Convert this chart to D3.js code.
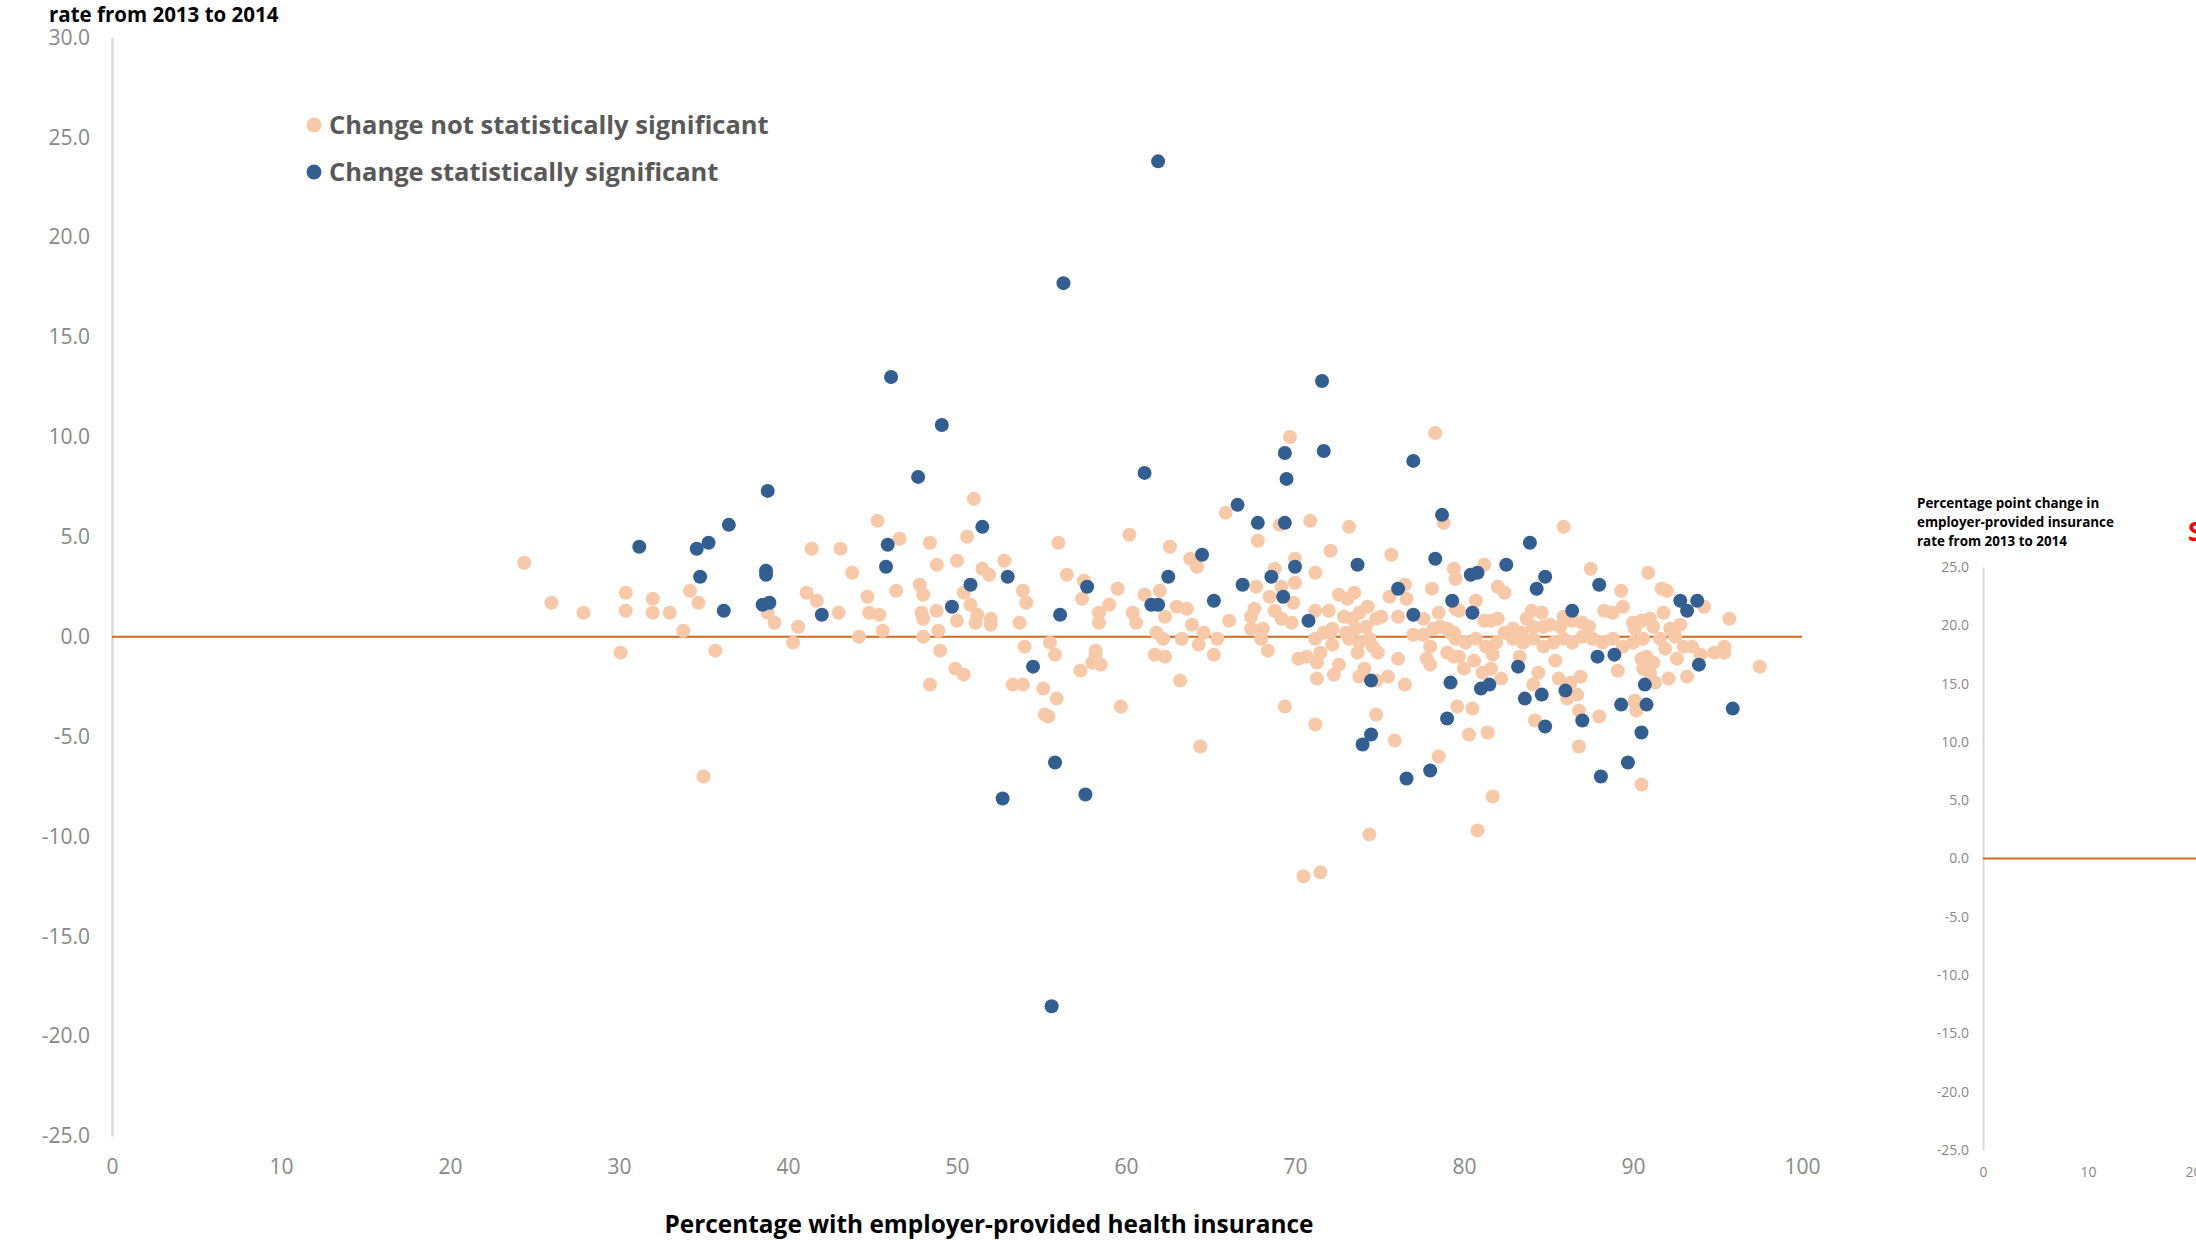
<!DOCTYPE html>
<html>
<head>
<meta charset="utf-8">
<script src="https://cdn.jsdelivr.net/npm/d3@7"></script>
<style>
  body { margin: 0; background: #fff; }
  svg { display: block; font-family: "Open Sans", sans-serif; }
</style>
</head>
<body>
<div id="chart"></div>
<script>
// [percentage with employer-provided insurance, point change 2013-2014]
const notSignificant = [
  [24.4,3.7],[26.0,1.7],[27.9,1.2],[30.1,-0.8],[30.4,2.2],[30.4,1.3],[32.0,1.9],[32.0,1.2],[33.0,1.2],[33.8,0.3],
  [34.2,2.3],[34.7,1.7],[35.7,-0.7],[35.0,-7.0],[41.4,4.4],[43.1,4.4],[38.8,1.2],[39.2,0.7],[40.6,0.5],[40.3,-0.3],
  [41.1,2.2],[41.7,1.8],[43.0,1.2],
  [45.3,5.8],[46.6,4.9],[43.8,3.2],[44.7,2.0],[44.8,1.2],[45.4,1.1],[44.2,0.0],[45.6,0.3],[46.4,2.3],[48.4,4.7],
  [48.8,3.6],[47.8,2.6],[48.0,2.1],[47.9,1.2],[48.0,0.9],[48.0,0.0],[48.8,1.3],[48.9,0.3],[49.0,-0.7],[48.4,-2.4],
  [49.9,-1.6],[50.4,-1.9],[50.0,3.8],[50.6,5.0],[51.0,6.9],[50.4,2.2],[50.8,1.6],[51.2,1.1],[51.1,0.7],[50.0,0.8],
  [51.5,3.4],[51.9,3.1],[52.0,0.9],[52.0,0.6],[52.8,3.8],[53.9,2.3],[54.1,1.7],[53.7,0.7],[54.0,-0.5],[53.3,-2.4],
  [53.9,-2.4],[55.1,-2.6],[55.9,-3.1],[55.2,-3.9],[55.4,-4.0],[55.5,-0.3],[55.8,-0.9],[56.0,4.7],[56.5,3.1],[57.5,2.8],
  [57.4,1.9],[58.4,1.2],[58.4,0.7],[58.2,-0.7],[58.2,-0.9],[58.0,-1.3],[58.5,-1.4],[57.3,-1.7],[59.0,1.6],[59.5,2.4],
  [60.2,5.1],[59.7,-3.5],[60.4,1.2],[60.6,0.7],[61.1,2.1],[62.0,2.3],[62.3,1.0],[61.8,0.2],[62.2,-0.1],[61.7,-0.9],
  [62.3,-1.0],[62.6,4.5],
  [69.7,10.0],[78.3,10.2],[65.9,6.2],[69.1,5.6],[70.9,5.8],[73.2,5.5],[78.8,5.7],[67.8,4.8],[63.8,3.9],[64.2,3.5],
  [72.1,4.3],[75.7,4.1],[70.0,3.9],[68.8,3.4],[71.2,3.2],[70.0,2.7],[67.7,2.5],[68.5,2.0],[69.2,2.5],[69.9,1.7],
  [63.0,1.5],[63.6,1.4],[63.9,0.6],[64.6,0.2],[63.3,-0.1],[64.3,-0.4],[65.4,-0.1],[65.2,-0.9],[63.2,-2.2],[66.1,0.8],
  [67.4,0.4],[68.1,0.4],[67.6,1.4],[67.4,1.0],[68.0,-0.1],[68.4,-0.7],[68.8,1.3],[69.2,0.9],[69.8,0.7],[71.2,1.3],
  [72.0,1.3],[71.2,-0.1],[71.5,-0.8],[71.3,-1.3],[70.2,-1.1],[70.7,-1.0],[71.3,-2.1],[69.4,-3.5],[71.2,-4.4],[64.4,-5.5],
  [74.4,-9.9],[70.5,-12.0],[71.5,-11.8],[72.6,-1.4],[72.3,-1.9],[72.6,2.1],[73.1,1.9],[73.5,2.2],[72.2,0.4],[71.7,0.2],
  [72.1,0.2],[72.2,-0.4],[72.9,1.0],[73.4,0.9],[73.8,1.2],[74.3,1.5],[73.0,0.2],[73.6,0.4],[74.2,0.5],[74.8,0.9],
  [75.1,1.0],[73.2,-0.1],[73.8,-0.3],[74.4,-0.1],[74.6,-0.5],[74.9,-0.8],[73.7,-0.8],[74.1,-1.6],[73.8,-2.0],[74.8,-2.2],
  [75.5,-2.0],[76.1,-1.1],[76.5,-2.4],[74.8,-3.9],[75.9,-5.2],[78.5,-6.0],[76.1,1.0],[76.5,2.6],[76.6,1.9],[75.6,2.0],
  [78.1,2.4],[78.5,1.2],[77.6,0.9],[77.0,0.1],[77.6,0.1],[78.2,0.4],[78.6,0.5],[79.0,0.4],[79.4,0.2],[78.0,-0.5],
  [77.8,-1.1],[78.0,-1.4],[79.0,-0.8],[79.4,-1.0],[79.4,3.4],[79.5,2.9],[79.5,1.4],[79.6,-3.5],
  [85.9,5.5],[87.5,3.4],[89.3,2.3],[90.9,3.2],[81.2,3.6],[82.0,2.5],[82.4,2.2],[80.7,1.8],[79.7,1.3],[81.2,0.8],
  [81.6,0.8],[82.0,0.9],[83.7,0.9],[84.0,1.3],[84.6,1.2],[82.9,0.4],[83.4,0.2],[84.1,0.5],[84.7,0.5],[85.1,0.6],
  [85.7,0.5],[85.9,1.0],[86.4,0.8],[87.0,0.7],[87.4,0.5],[88.3,1.3],[88.8,1.2],[89.4,1.5],[90.0,0.7],[90.5,0.8],
  [91.0,0.9],[79.2,0.2],[79.5,-0.1],[80.1,-0.3],[80.7,-0.1],[81.3,-0.5],[81.9,-0.3],[82.4,0.2],[82.9,-0.1],[83.5,-0.3],
  [84.1,-0.1],[84.7,-0.5],[85.3,-0.3],[85.9,-0.1],[86.4,-0.3],[87.0,0.0],[87.6,-0.1],[88.2,-0.3],[88.8,-0.1],[89.4,-0.5],
  [90.0,-0.3],[90.6,-0.1],[79.7,-1.0],[80.0,-1.6],[80.6,-1.2],[81.1,-1.8],[81.6,-1.6],[82.2,-2.1],[81.7,-0.9],[83.3,-1.0],
  [84.4,-1.8],[84.1,-2.4],[85.4,-1.2],[85.6,-2.1],[86.3,-2.3],[86.1,-3.1],[86.7,-2.9],[86.9,-2.0],[86.8,-3.7],[86.8,-5.5],
  [88.0,-4.0],[89.1,-1.7],[90.1,-3.3],[90.5,-1.1],[90.5,-7.4],[80.5,-3.6],[80.3,-4.9],[81.4,-4.8],[81.7,-8.0],[80.8,-9.7],
  [84.2,-4.2],
  [91.7,2.4],[92.0,2.3],[94.2,1.5],[91.8,1.2],[95.7,0.9],[92.8,0.6],[91.2,0.5],[92.2,0.4],[90.1,0.4],[92.5,0.0],
  [91.6,-0.1],[91.9,-0.6],[93.0,-0.5],[93.5,-0.5],[94.0,-0.9],[94.8,-0.8],[95.4,-0.5],[95.4,-0.8],[92.6,-1.1],[90.8,-1.0],
  [91.2,-1.3],[90.6,-1.6],[91.0,-1.8],[91.3,-2.3],[92.1,-2.1],[93.2,-2.0],[97.5,-1.5],[90.1,-3.2],[90.2,-3.7]
];

const significant = [
  [31.2,4.5],[34.6,4.4],[35.3,4.7],[36.5,5.6],[34.8,3.0],[36.2,1.3],[38.8,7.3],[38.7,3.3],[38.7,3.1],[38.5,1.6],
  [38.9,1.7],[42.0,1.1],[46.1,13.0],[45.9,4.6],[45.8,3.5],[47.7,8.0],[49.1,10.6],[49.7,1.5],[50.8,2.6],[51.5,5.5],
  [53.0,3.0],[54.5,-1.5],[52.7,-8.1],[55.8,-6.3],[56.3,17.7],[56.1,1.1],[57.7,2.5],[57.6,-7.9],[55.6,-18.5],[61.9,23.8],
  [61.1,8.2],[61.5,1.6],[61.9,1.6],[62.5,3.0],[64.5,4.1],[65.2,1.8],[66.6,6.6],[66.9,2.6],[67.8,5.7],[68.6,3.0],
  [69.4,9.2],[69.5,7.9],[69.4,5.7],[69.3,2.0],[70.0,3.5],[70.8,0.8],[71.6,12.8],[71.7,9.3],[73.7,3.6],[74.0,-5.4],
  [74.5,-2.2],[74.5,-4.9],[77.0,8.8],[76.1,2.4],[77.0,1.1],[76.6,-7.1],[78.0,-6.7],[78.7,6.1],[78.3,3.9],[79.3,1.8],
  [79.2,-2.3],[79.0,-4.1],[80.4,3.1],[80.8,3.2],[80.5,1.2],[81.0,-2.6],[81.5,-2.4],[82.5,3.6],[83.2,-1.5],[83.9,4.7],
  [84.3,2.4],[84.8,3.0],[84.6,-2.9],[83.6,-3.1],[84.8,-4.5],[86.4,1.3],[86.0,-2.7],[87.0,-4.2],[87.9,-1.0],[88.0,2.6],
  [88.9,-0.9],[89.3,-3.4],[88.1,-7.0],[89.7,-6.3],[90.7,-2.4],[90.8,-3.4],[90.5,-4.8],[92.8,1.8],[93.2,1.3],[93.8,1.8],
  [93.9,-1.4],[95.9,-3.6]
];

const xTicks = [0, 10, 20, 30, 40, 50, 60, 70, 80, 90, 100];
const miniXTicks = [0, 10, 20];
const yTicks = [30, 25, 20, 15, 10, 5, 0, -5, -10, -15, -20, -25];
const miniYTicks = [25, 20, 15, 10, 5, 0, -5, -10, -15, -20, -25];
const legendLabels = ["Change not statistically significant", "Change statistically significant"];
const yTitle = ["Percentage point change in", "employer-provided insurance", "rate from 2013 to 2014"];
const xTitle = "Percentage with employer-provided health insurance";

const width = 2196, height = 1240;
const light = "#f7c9a8", dark = "#335e91", zeroColor = "#d2691e", axisGrey = "#d9d9d9", tickGrey = "#888";

const svg = d3.select("#chart").append("svg")
  .attr("width", width)
  .attr("height", height);

// main chart
const x = d3.scaleLinear().domain([0, 100]).range([112, 1802]);
const y = d3.scaleLinear().domain([-25, 30]).range([1136, 37.5]);

const yAxis = svg.append("g")
  .attr("transform", `translate(${x(0)},0)`)
  .call(d3.axisLeft(y).tickValues(yTicks).tickFormat(d => d.toFixed(1)).tickSize(0).tickSizeOuter(0).tickPadding(22));
yAxis.select(".domain").attr("stroke", axisGrey).attr("stroke-width", 2.5);
yAxis.selectAll("text").attr("font-size", 21).attr("fill", tickGrey).attr("font-family", "Open Sans");

const xAxis = svg.append("g")
  .attr("transform", `translate(0,${y(-25)})`)
  .call(d3.axisBottom(x).tickValues(xTicks).tickSize(0).tickPadding(23));
xAxis.select(".domain").remove();
xAxis.selectAll("text").attr("font-size", 21).attr("fill", tickGrey).attr("font-family", "Open Sans");

svg.append("line")
  .attr("x1", x(0)).attr("x2", x(100))
  .attr("y1", y(0)).attr("y2", y(0))
  .attr("stroke", zeroColor)
  .attr("stroke-width", 2);

svg.append("g")
  .selectAll("circle")
  .data(notSignificant)
  .enter().append("circle")
  .attr("cx", d => x(d[0]))
  .attr("cy", d => y(d[1]))
  .attr("r", 7)
  .attr("fill", light);

svg.append("g")
  .selectAll("circle")
  .data(significant)
  .enter().append("circle")
  .attr("cx", d => x(d[0]))
  .attr("cy", d => y(d[1]))
  .attr("r", 7)
  .attr("fill", dark);

// legend
svg.selectAll("legdots")
  .data(legendLabels)
  .enter().append("circle")
  .attr("cx", 314)
  .attr("cy", (d, i) => 125 + i * 47)
  .attr("r", 7.5)
  .attr("fill", (d, i) => i === 0 ? light : dark);

svg.selectAll("leglabels")
  .data(legendLabels)
  .enter().append("text")
  .attr("x", 329)
  .attr("y", (d, i) => 125 + i * 47)
  .attr("dy", "0.35em")
  .attr("font-size", 25.5)
  .attr("font-weight", 700)
  .attr("fill", "#595959")
  .text(d => d);

// only the last line of the y title is inside the page in the original
svg.append("text")
  .attr("x", 49)
  .attr("y", 22)
  .attr("font-size", 20.5)
  .attr("font-weight", 700)
  .attr("fill", "#000")
  .text(yTitle[2]);

svg.append("text")
  .attr("x", 989)
  .attr("y", 1233)
  .attr("text-anchor", "middle")
  .attr("font-size", 24.4)
  .attr("font-weight", 700)
  .attr("fill", "#000")
  .text(xTitle);

// second, empty copy of the chart at the right edge
const x2 = d3.scaleLinear().domain([0, 100]).range([1983, 3033]);
const y2 = d3.scaleLinear().domain([-25, 25]).range([1150, 567]);

const yAxis2 = svg.append("g")
  .attr("transform", `translate(${x2(0)},0)`)
  .call(d3.axisLeft(y2).tickValues(miniYTicks).tickFormat(d => d.toFixed(1)).tickSize(0).tickSizeOuter(0).tickPadding(14));
yAxis2.select(".domain").attr("stroke", axisGrey).attr("stroke-width", 2);
yAxis2.selectAll("text").attr("font-size", 14).attr("fill", tickGrey).attr("font-family", "Open Sans");

const xAxis2 = svg.append("g")
  .attr("transform", `translate(0,${y2(-25)})`)
  .call(d3.axisBottom(x2).tickValues(miniXTicks).tickSize(0).tickPadding(17));
xAxis2.select(".domain").remove();
xAxis2.selectAll("text").attr("font-size", 14).attr("fill", tickGrey).attr("font-family", "Open Sans");

svg.append("line")
  .attr("x1", x2(0)).attr("x2", width)
  .attr("y1", y2(0)).attr("y2", y2(0))
  .attr("stroke", zeroColor)
  .attr("stroke-width", 2);

svg.append("text")
  .attr("font-size", 13.4)
  .attr("font-weight", 700)
  .attr("fill", "#000")
  .selectAll("tspan")
  .data(yTitle)
  .enter().append("tspan")
  .attr("x", 1917)
  .attr("y", (d, i) => 508 + i * 19)
  .text(d => d);

svg.append("text")
  .attr("x", 2188)
  .attr("y", 541)
  .attr("font-size", 26)
  .attr("font-weight", 700)
  .attr("fill", "#ff0000")
  .text("S");
</script>
</body>
</html>
